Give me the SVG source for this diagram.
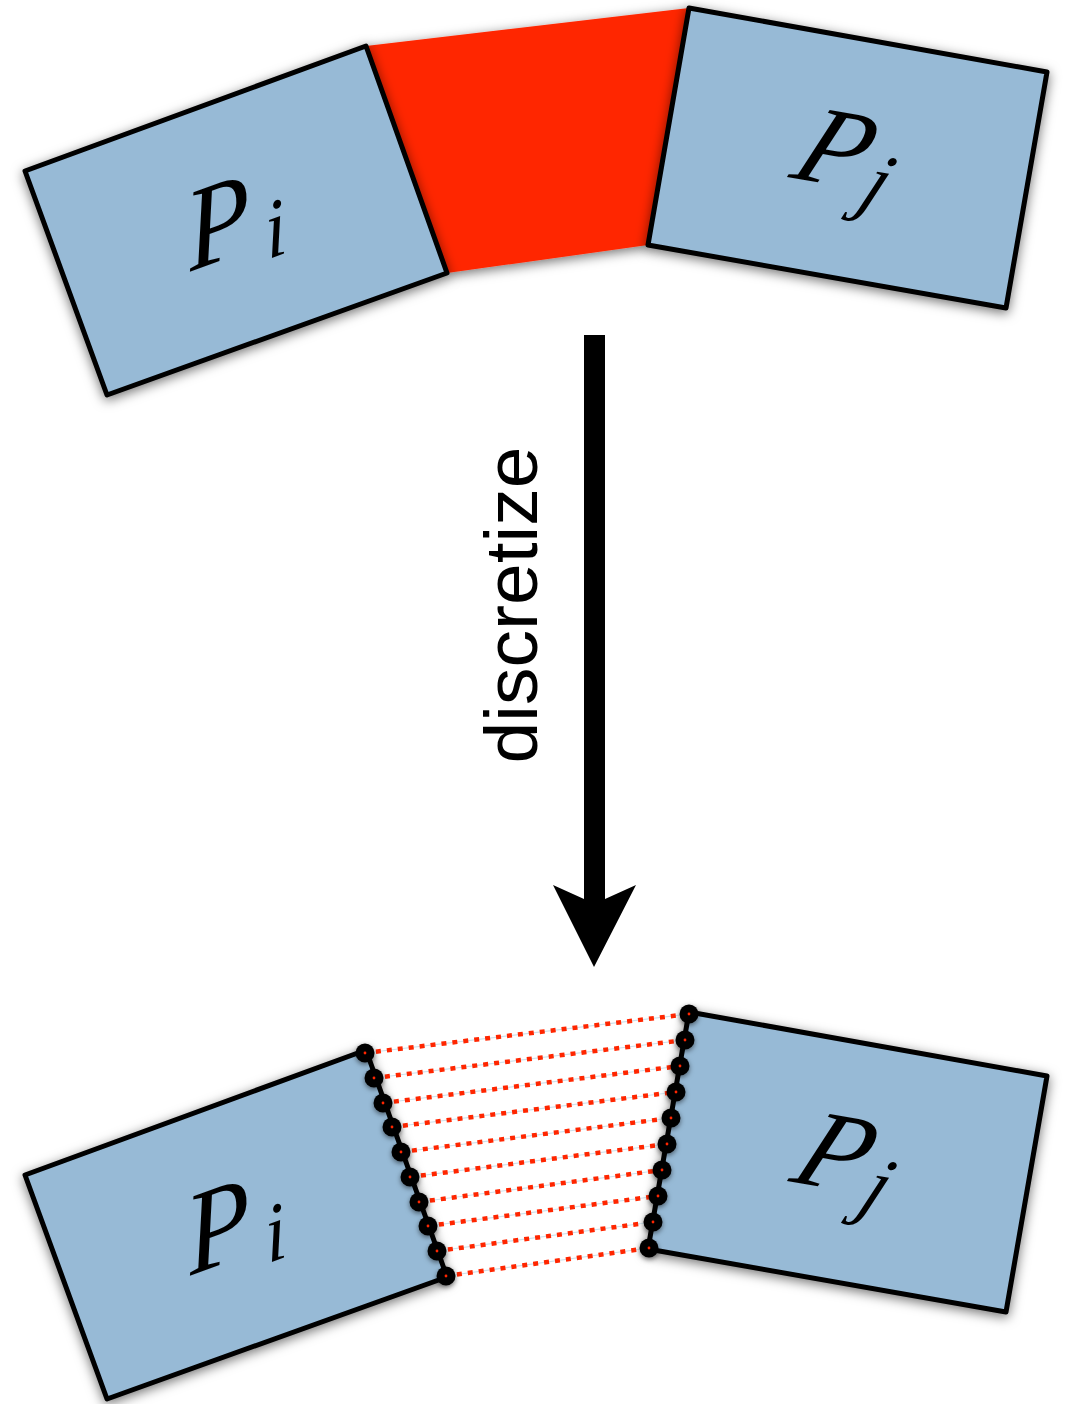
<svg xmlns="http://www.w3.org/2000/svg" width="1072" height="1404" viewBox="0 0 1072 1404">
  <defs>
    <filter id="sh" x="-20%" y="-20%" width="140%" height="140%">
      <feDropShadow dx="0" dy="3" stdDeviation="6" flood-color="#000" flood-opacity="0.55"/>
    </filter>
    <filter id="dsh" x="-100%" y="-100%" width="300%" height="300%">
      <feDropShadow dx="0" dy="2" stdDeviation="2.5" flood-color="#000" flood-opacity="0.5"/>
    </filter>
  </defs>
  <style>
    .box { fill: #97bad6; stroke: #000; stroke-width: 5; stroke-linejoin: round; filter: url(#sh); }
    .band { fill: #ff2600; filter: url(#sh); }
    .lbl { font-family: "Liberation Serif", "DejaVu Serif", serif; font-style: italic; font-size: 112px; fill: #000; }
    .sub { font-size: 80px; }
    .dl { stroke: #ff2600; stroke-width: 4.5; stroke-dasharray: 5 6; fill: none; }
    .dlb { stroke: #cfe0ea; stroke-width: 1.2; fill: none; }
    .dot { fill: #000; filter: url(#dsh); }
    .dc { fill: #ff2600; }
    .word { font-family: "Liberation Sans", Arial, sans-serif; font-size: 75px; fill: #000; }
  </style>
  <rect width="1072" height="1404" fill="#fff"/>

  <g id="band-top">
    <polygon class="band" points="366,46 689,8 648,245 447,273"/>
  </g>

  <g id="Pi-top">
    <polygon class="box" points="25,171 366,46 447,273 107,395"/>
    <g transform="translate(236,221) rotate(-20) skewX(-14)">
      <text class="lbl" x="-52" y="32">P<tspan class="sub" dx="12" dy="15">i</tspan></text>
    </g>
  </g>

  <g id="Pj-top">
    <polygon class="box" points="689,8 1047,72 1006,308 648,245"/>
    <g transform="translate(847,158) rotate(10) skewX(-14)">
      <text class="lbl" x="-48" y="29">P<tspan class="sub" dx="8" dy="16">j</tspan></text>
    </g>
  </g>

  <g id="Pi-bottom">
    <polygon class="box" points="25,1175 366,1050 447,1277 107,1399"/>
    <g transform="translate(236,1225) rotate(-20) skewX(-14)">
      <text class="lbl" x="-52" y="32">P<tspan class="sub" dx="12" dy="15">i</tspan></text>
    </g>
  </g>

  <g id="Pj-bottom">
    <polygon class="box" points="689,1012 1047,1076 1006,1312 648,1249"/>
    <g transform="translate(847,1162) rotate(10) skewX(-14)">
      <text class="lbl" x="-48" y="29">P<tspan class="sub" dx="8" dy="16">j</tspan></text>
    </g>
  </g>

  <g id="connectors">
    <g id="discretize-arrow">
      <path d="M584,335 H605 V899 L636,885 L594,967 L553,885 L584,899 Z" fill="#000"/>
      <text class="word" transform="translate(537,605) rotate(-90)" text-anchor="middle">discretize</text>
    </g>
    <g id="samples">
      <line class="dlb" x1="365" y1="1053" x2="689" y2="1014"/>
      <line class="dlb" x1="374" y1="1078" x2="685" y2="1040"/>
      <line class="dlb" x1="383" y1="1103" x2="680" y2="1066"/>
      <line class="dlb" x1="392" y1="1127" x2="676" y2="1092"/>
      <line class="dlb" x1="401" y1="1152" x2="671" y2="1118"/>
      <line class="dlb" x1="410" y1="1177" x2="667" y2="1144"/>
      <line class="dlb" x1="419" y1="1202" x2="662" y2="1170"/>
      <line class="dlb" x1="428" y1="1226" x2="658" y2="1196"/>
      <line class="dlb" x1="437" y1="1251" x2="653" y2="1222"/>
      <line class="dlb" x1="446" y1="1276" x2="649" y2="1248"/>
      <line class="dl" x1="365" y1="1053" x2="689" y2="1014"/>
      <line class="dl" x1="374" y1="1078" x2="685" y2="1040"/>
      <line class="dl" x1="383" y1="1103" x2="680" y2="1066"/>
      <line class="dl" x1="392" y1="1127" x2="676" y2="1092"/>
      <line class="dl" x1="401" y1="1152" x2="671" y2="1118"/>
      <line class="dl" x1="410" y1="1177" x2="667" y2="1144"/>
      <line class="dl" x1="419" y1="1202" x2="662" y2="1170"/>
      <line class="dl" x1="428" y1="1226" x2="658" y2="1196"/>
      <line class="dl" x1="437" y1="1251" x2="653" y2="1222"/>
      <line class="dl" x1="446" y1="1276" x2="649" y2="1248"/>
    </g>
    <g id="sample-points">
      <g class="dot">
        <circle cx="365" cy="1053" r="9.5"/><circle cx="374" cy="1078" r="9.5"/>
        <circle cx="383" cy="1103" r="9.5"/><circle cx="392" cy="1127" r="9.5"/>
        <circle cx="401" cy="1152" r="9.5"/><circle cx="410" cy="1177" r="9.5"/>
        <circle cx="419" cy="1202" r="9.5"/><circle cx="428" cy="1226" r="9.5"/>
        <circle cx="437" cy="1251" r="9.5"/><circle cx="446" cy="1276" r="9.5"/>
        <circle cx="689" cy="1014" r="9.5"/><circle cx="685" cy="1040" r="9.5"/>
        <circle cx="680" cy="1066" r="9.5"/><circle cx="676" cy="1092" r="9.5"/>
        <circle cx="671" cy="1118" r="9.5"/><circle cx="667" cy="1144" r="9.5"/>
        <circle cx="662" cy="1170" r="9.5"/><circle cx="658" cy="1196" r="9.5"/>
        <circle cx="653" cy="1222" r="9.5"/><circle cx="649" cy="1248" r="9.5"/>
      </g>
      <g class="dc">
        <circle cx="365" cy="1053" r="1.4"/><circle cx="374" cy="1078" r="1.4"/>
        <circle cx="383" cy="1103" r="1.4"/><circle cx="392" cy="1127" r="1.4"/>
        <circle cx="401" cy="1152" r="1.4"/><circle cx="410" cy="1177" r="1.4"/>
        <circle cx="419" cy="1202" r="1.4"/><circle cx="428" cy="1226" r="1.4"/>
        <circle cx="437" cy="1251" r="1.4"/><circle cx="446" cy="1276" r="1.4"/>
        <circle cx="689" cy="1014" r="1.4"/><circle cx="685" cy="1040" r="1.4"/>
        <circle cx="680" cy="1066" r="1.4"/><circle cx="676" cy="1092" r="1.4"/>
        <circle cx="671" cy="1118" r="1.4"/><circle cx="667" cy="1144" r="1.4"/>
        <circle cx="662" cy="1170" r="1.4"/><circle cx="658" cy="1196" r="1.4"/>
        <circle cx="653" cy="1222" r="1.4"/><circle cx="649" cy="1248" r="1.4"/>
      </g>
    </g>
  </g>
</svg>
